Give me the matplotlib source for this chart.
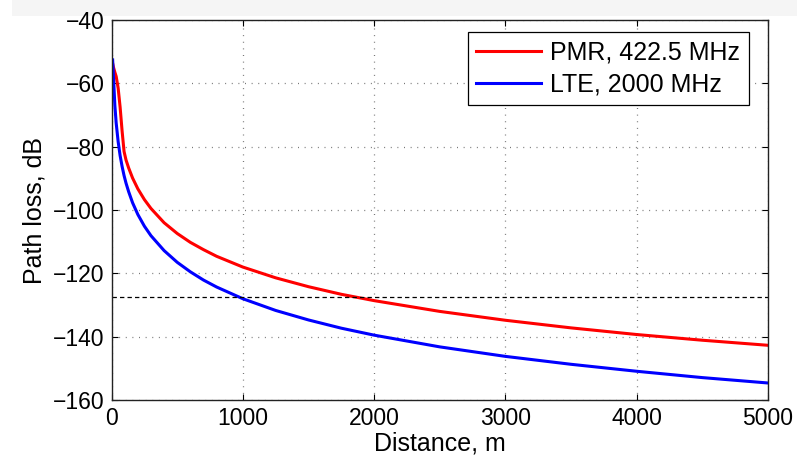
import matplotlib
matplotlib.use('Agg')
import matplotlib.pyplot as plt
from matplotlib.patches import Rectangle

# distance samples (m) and path loss (dB)
distance = [8, 15, 25, 35, 50, 65, 80, 95, 110, 130, 160, 200, 250, 300, 400, 500,
            600, 700, 800, 1000, 1250, 1500, 1750, 2000, 2500, 3000, 3500, 4000, 4500, 5000]
pmr_loss = [-53.7, -55.0, -56.5, -57.8, -61.5, -67.5, -75.0, -81.5, -84.2, -86.7,
            -89.9, -93.3, -96.7, -99.5, -104.0, -107.4, -110.2, -112.5, -114.6, -118.0,
            -121.4, -124.2, -126.6, -128.6, -132.0, -134.8, -137.2, -139.3, -141.1, -142.7]
lte_loss = [-52.6, -58.5, -67.0, -72.5, -78.4, -82.8, -86.2, -89.1, -91.5, -94.2,
            -97.7, -101.4, -105.1, -108.1, -112.8, -116.5, -119.5, -122.1, -124.3, -128.0,
            -131.7, -134.7, -137.3, -139.5, -143.2, -146.2, -148.7, -150.9, -152.9, -154.6]
threshold = -127.5

series_labels = ['PMR, 422.5 MHz', 'LTE, 2000 MHz']
x_ticks = [0, 1000, 2000, 3000, 4000, 5000]
y_ticks = [-160, -140, -120, -100, -80, -60, -40]

plt.rcParams['font.family'] = ['Liberation Sans', 'DejaVu Sans']
fs = 16.5     # tick labels
fs_big = 18   # axis labels, legend

fig = plt.figure(figsize=(7.97, 4.62), dpi=100, facecolor='white')
# faint grey band along the top of the screenshot
fig.patches.append(Rectangle((0.015, 0.965), 0.985, 0.035, transform=fig.transFigure,
                             facecolor='#f5f5f5', edgecolor='none', zorder=-5))
ax = fig.add_axes([0.140, 0.134, 0.8236, 0.8227])

ax.plot(distance, pmr_loss, color='#ff0000', lw=2.2, label=series_labels[0])
ax.plot(distance, lte_loss, color='#0000ff', lw=2.2, label=series_labels[1])
ax.axhline(threshold, color='black', lw=0.9, ls=(0, (3.5, 2.5)))

ax.set_xlim(0, 5000)
ax.set_ylim(-160, -40)
ax.set_xticks(x_ticks)
ax.set_yticks(y_ticks)
ax.grid(True, ls=(0, (0.8, 4.5)), color='#777777', lw=0.9)
ax.tick_params(direction='in', top=True, right=True, length=4, width=0.8,
               labelsize=fs, pad=5)
for s in ax.spines.values():
    s.set_linewidth(1.0)
    s.set_color('#222222')

ax.set_xlabel('Distance, m', fontsize=fs_big, labelpad=1)
ax.set_ylabel('Path loss, dB', fontsize=fs_big, labelpad=5)

leg = ax.legend(loc='upper right', bbox_to_anchor=(0.971, 0.968), borderaxespad=0,
                fontsize=fs_big, fancybox=False, framealpha=1, edgecolor='black',
                handlelength=2.6, handletextpad=0.35, labelspacing=0.3,
                borderpad=0.35)
leg.get_frame().set_linewidth(0.9)

fig.savefig('out.png', dpi=100)
